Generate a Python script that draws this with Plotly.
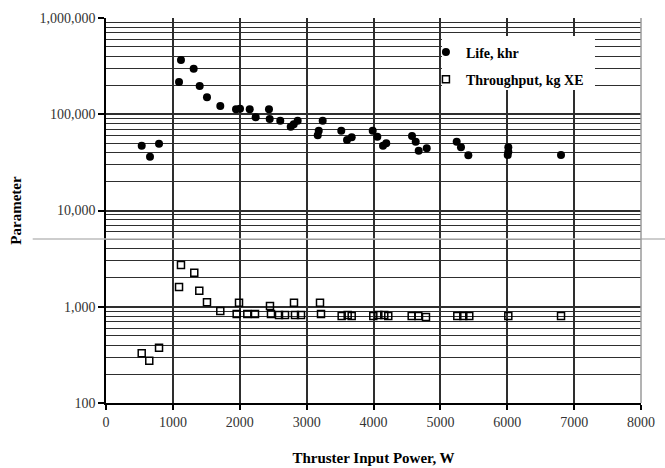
import plotly.graph_objects as go

# Life, khr
life_power = [534, 658, 793, 1092, 1121, 1311, 1401, 1510, 1709, 1944, 2004, 2149, 2238,
              2437, 2448, 2606, 2762, 2807, 2866, 3166, 3181, 3240, 3518, 3604, 3674,
              3988, 4057, 4142, 4191, 4576, 4631, 4676, 4796, 5244, 5308, 5418, 6016,
              6016, 6007, 6804]
life_khr = [47100, 36200, 49400, 216000, 366000, 297000, 197000, 150000, 122000, 112600,
            114000, 112600, 93000, 112600, 89300, 85700, 74300, 78600, 85700, 60400,
            67500, 85700, 67500, 54000, 57600, 67500, 58400, 47100, 49900, 59400, 51900,
            41800, 44300, 51900, 45400, 37500, 45400, 40800, 37700, 37700]

# Throughput, kg XE
thr_power = [534, 647, 793, 1092, 1121, 1320, 1395, 1510, 1709, 1954, 1989, 2113, 2228,
             2452, 2467, 2587, 2677, 2811, 2826, 2916, 3200, 3215, 3524, 3614, 3674,
             3997, 4072, 4161, 4221, 4571, 4670, 4785, 5253, 5343, 5432, 6016, 6804]
thr_kg = [328, 275, 376, 1604, 2715, 2260, 1468, 1112, 905, 841, 1103, 841, 841,
          1018, 841, 820, 820, 1103, 820, 820, 1103, 841, 801, 820, 801,
          801, 820, 820, 801, 801, 801, 782, 801, 801, 801, 801, 801]

x_ticks = [0, 1000, 2000, 3000, 4000, 5000, 6000, 7000, 8000]
y_ticks = [100, 1000, 10000, 100000, 1000000]
y_tick_labels = ["100", "1,000", "10,000", "100,000", "1,000,000"]

serif = "Liberation Serif"
grid_col = "#2e2e2e"

fig = go.Figure()
fig.add_trace(go.Scatter(
    x=life_power, y=life_khr, mode="markers", name="<b>Life, khr</b>",
    legendgroup="a",
    marker=dict(symbol="circle", size=8, color="black"),
))
fig.add_trace(go.Scatter(
    x=thr_power, y=thr_kg, mode="markers", name="<b>Throughput, kg XE</b>",
    legendgroup="b",
    marker=dict(symbol="square-open", size=7, color="black", line=dict(width=1.5)),
))

fig.update_layout(
    width=665, height=468,
    margin=dict(l=106, r=24, t=18, b=65),
    paper_bgcolor="white", plot_bgcolor="white",
    font=dict(family=serif, size=14, color="#333333"),
    showlegend=True,
    legend=dict(
        x=0.598, y=0.952, xanchor="left", yanchor="top",
        bgcolor="rgba(0,0,0,0)", borderwidth=0,
        font=dict(family=serif, size=14, color="black"),
        traceorder="grouped", tracegroupgap=6,
    ),
    xaxis=dict(
        range=[0, 8000], tickvals=x_ticks,
        automargin=False,
        showgrid=True, gridcolor=grid_col, gridwidth=1.6,
        showline=True, linecolor="black", linewidth=1.5,
        ticks="outside", ticklen=5, tickcolor="black", tickwidth=1.5,
        zeroline=False,
        tickfont=dict(family=serif, size=14, color="#333333"),
        title=dict(text="<b>Thruster Input Power, W</b>", standoff=24,
                   font=dict(family=serif, size=15, color="black")),
    ),
    yaxis=dict(
        type="log", range=[2, 6],
        tickvals=y_ticks, ticktext=y_tick_labels,
        automargin=False,
        showgrid=True, gridcolor=grid_col, gridwidth=1.6,
        minor=dict(dtick="D1", showgrid=True, gridcolor=grid_col, gridwidth=1.4, ticks=""),
        showline=True, linecolor="black", linewidth=1.5,
        ticks="outside", ticklen=6, tickcolor="black", tickwidth=1.5,
        zeroline=False,
        tickfont=dict(family=serif, size=14, color="#333333"),
        title=dict(text="<b>Parameter</b>", standoff=14,
                   font=dict(family=serif, size=15, color="black")),
    ),
    shapes=[
        dict(type="line", xref="paper", yref="paper", x0=-0.137, x1=1.05,
             y0=0.426, y1=0.426, line=dict(color="#bdbdbd", width=1.5), layer="above"),
        dict(type="line", xref="paper", yref="paper", x0=1, x1=1,
             y0=0, y1=1, line=dict(color="#9a9a9a", width=1.5), layer="above"),
        dict(type="rect", xref="paper", yref="paper", x0=0.628, x1=0.914,
             y0=0.813, y1=0.953, fillcolor="white", line=dict(width=0), layer="above"),
    ],
)

fig.write_html(
    "out.html",
    config={"displayModeBar": False},
    post_script="document.body.style.margin='0';document.body.style.overflow='hidden';",
)
